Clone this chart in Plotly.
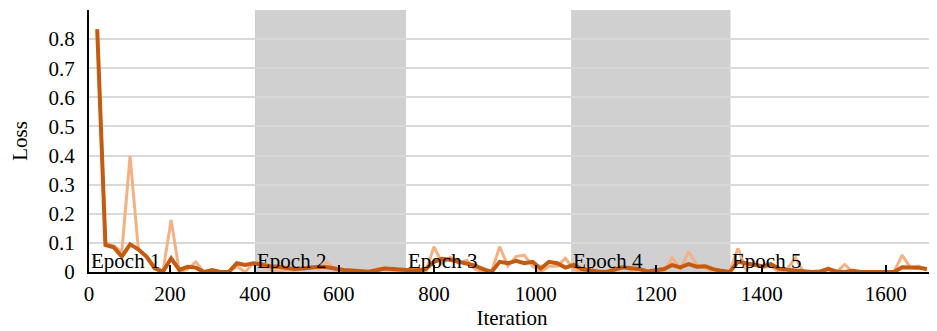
import plotly.graph_objects as go

# point index along the category axis (one point per logged step)
point_idx = list(range(1, 103))

loss_smooth = [
    0.834, 0.093, 0.085, 0.053, 0.095, 0.078, 0.053, 0.013, 0.001, 0.047,
    0.007, 0.018, 0.015, 0.0, 0.007, 0.0, 0.0, 0.03, 0.024, 0.03,
    0.026, 0.02, 0.018, 0.013, 0.01, 0.012, 0.015, 0.018, 0.016, 0.01,
    0.007, 0.005, 0.004, 0.001, 0.006, 0.012, 0.01, 0.007, 0.006, 0.006,
    0.01, 0.035, 0.045, 0.042, 0.036, 0.03, 0.022, 0.01, 0.0, 0.035,
    0.03, 0.038, 0.03, 0.035, 0.012, 0.035, 0.03, 0.015, 0.024, 0.01,
    0.005, 0.002, 0.0, 0.008, 0.016, 0.013, 0.01, 0.002, 0.005, 0.01,
    0.024, 0.016, 0.027, 0.018, 0.02, 0.01, 0.004, 0.0, 0.035, 0.03,
    0.025, 0.02, 0.027, 0.012, 0.008, 0.005, 0.003, 0.0, 0.002, 0.01,
    0.002, 0.0, 0.004, 0.0, 0.0, 0.0, 0.0, 0.0, 0.016, 0.016,
    0.015, 0.01,
]

loss_raw = [
    0.834, 0.1, 0.09, 0.07, 0.399, 0.08, 0.05, 0.01, 0.0, 0.179,
    0.0, 0.01, 0.035, 0.0, 0.0, 0.0, 0.0, 0.02, 0.0, 0.03,
    0.02, 0.01, 0.0, 0.01, 0.005, 0.015, 0.02, 0.01, 0.035, 0.005,
    0.0, 0.005, 0.0, 0.0, 0.01, 0.015, 0.005, 0.0, 0.01, 0.0,
    0.0, 0.087, 0.03, 0.05, 0.03, 0.04, 0.01, 0.0, 0.0, 0.087,
    0.02, 0.053, 0.058, 0.02, 0.0, 0.02, 0.02, 0.047, 0.01, 0.0,
    0.01, 0.0, 0.0, 0.015, 0.02, 0.005, 0.01, 0.0, 0.0, 0.0,
    0.049, 0.01, 0.07, 0.025, 0.015, 0.0, 0.0, 0.0, 0.081, 0.01,
    0.03, 0.015, 0.02, 0.0, 0.01, 0.049, 0.0, 0.0, 0.0, 0.015,
    0.0, 0.026, 0.0, 0.0, 0.0, 0.0, 0.0, 0.0, 0.058, 0.015,
    0.02, 0.005,
]

x_tick_labels = ["0", "200", "400", "600", "800", "1000", "1200", "1400", "1600"]
x_tick_pos = [0, 9.85, 20.2, 30.4, 42.0, 54.4, 69.0, 81.9, 97.0]

y_tick_vals = [0, 0.1, 0.2, 0.3, 0.4, 0.5, 0.6, 0.7, 0.8]
y_tick_labels = ["0", "0.1", "0.2", "0.3", "0.4", "0.5", "0.6", "0.7", "0.8"]

epoch_labels = ["Epoch 1", "Epoch 2", "Epoch 3", "Epoch 4", "Epoch 5"]
epoch_bounds = [0, 20.2, 38.6, 58.7, 78.1, 103.0]
shaded_epochs = [1, 3]

FONT = "Liberation Serif, Times New Roman, serif"

fig = go.Figure()

for i in shaded_epochs:
    fig.add_shape(type="rect", xref="x", yref="y",
                  x0=epoch_bounds[i], x1=epoch_bounds[i + 1], y0=0, y1=0.9,
                  fillcolor="#D0D0D0", line=dict(width=0), layer="below")

fig.add_trace(go.Scatter(x=point_idx, y=loss_raw, mode="lines",
                         line=dict(color="#F4B183", width=3),
                         showlegend=False, hoverinfo="skip"))
fig.add_trace(go.Scatter(x=point_idx, y=loss_smooth, mode="lines",
                         line=dict(color="#C55A11", width=4),
                         showlegend=False))

for i, lab in enumerate(epoch_labels):
    fig.add_annotation(x=epoch_bounds[i], y=0.0, xref="x", yref="y",
                       text=lab, showarrow=False, xanchor="left", yanchor="bottom",
                       xshift=0, yshift=-3,
                       font=dict(family=FONT, size=21, color="black"))

# page body has an 8px default margin; size the figure so the plot sits where the reference does
fig.update_layout(
    width=929, height=323,
    margin=dict(l=81, r=2, t=2, b=59),
    plot_bgcolor="white", paper_bgcolor="white",
    font=dict(family=FONT, size=21, color="black"),
    showlegend=False,
)

fig.update_xaxes(
    range=[0, 103.0], automargin=False,
    tickmode="array", tickvals=x_tick_pos, ticktext=x_tick_labels,
    ticks="inside", ticklen=7, tickwidth=2, tickcolor="black",
    ticklabelstandoff=2,
    showline=True, linecolor="black", linewidth=2,
    showgrid=False, zeroline=False,
    title=dict(text="Iteration", font=dict(family=FONT, size=21), standoff=0),
    tickfont=dict(family=FONT, size=21),
)

fig.update_yaxes(
    range=[0, 0.9], automargin=False,
    tickmode="array", tickvals=y_tick_vals + [0.9], ticktext=y_tick_labels + [""],
    ticks="", ticklabelstandoff=8,
    showline=True, linecolor="black", linewidth=2,
    showgrid=True, gridcolor="#D9D9D9", gridwidth=2,
    zeroline=False,
    title=dict(text="Loss", font=dict(family=FONT, size=21), standoff=18),
    tickfont=dict(family=FONT, size=21),
)

fig.write_html("out.html")
